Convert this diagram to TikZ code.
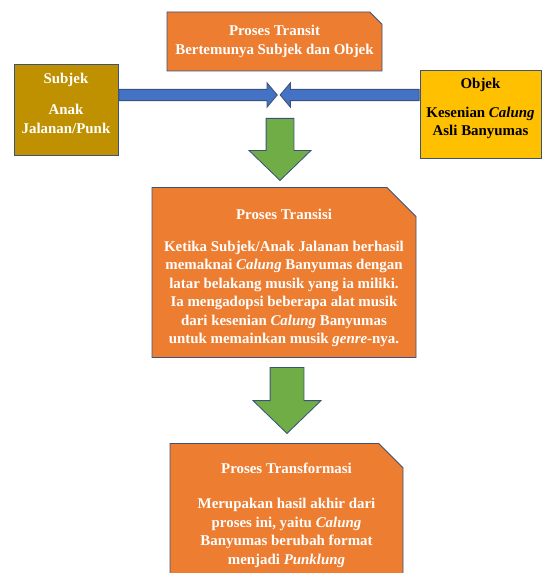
\documentclass[tikz,border=0pt]{standalone}
\usepackage{fontspec}
\setmainfont{Liberation Serif}
\usetikzlibrary{shapes.misc, shapes.arrows, positioning}
\definecolor{oranyeBox}{HTML}{ED7D31}
\definecolor{garisBox}{HTML}{3B5378}
\definecolor{emasTua}{HTML}{BF9000}
\definecolor{kuningObjek}{HTML}{FFC000}
\definecolor{biruPanah}{HTML}{4472C4}
\definecolor{hijauPanah}{HTML}{70AD47}

\begin{document}
\begin{tikzpicture}[font=\fontsize{10.6}{13.2}\selectfont\bfseries,
        proses/.style={chamfered rectangle, chamfered rectangle corners=north east,
            draw=garisBox, line width=0.6pt, fill=oranyeBox, text=white,
            align=center, inner sep=0pt},
        aktor/.style={rectangle, draw=garisBox, line width=0.6pt, align=center, inner sep=0pt},
        panahBiru/.style={single arrow, draw=garisBox, fill=biruPanah, line width=0.6pt,
            inner sep=0pt, text height=0.13cm, text depth=0.13cm,
            single arrow head extend=0.1625cm, single arrow tip angle=100, anchor=tail},
        panahHijau/.style={single arrow, draw=garisBox, fill=hijauPanah, line width=0.6pt,
            inner sep=0pt, rotate=-90, single arrow head extend=0.425cm,
            single arrow tip angle=92, anchor=tail}]
    \useasboundingbox (0,0) rectangle (13.55,-14.325);
    % kotak proses dan aktor
    \node[proses, chamfered rectangle xsep=0.2cm, minimum width=5.375cm, minimum height=1.475cm]
        (transit) at (6.8625,-1.0375) {Proses Transit\\Bertemunya Subjek dan Objek};
    \node[aktor, fill=emasTua, text=white, minimum width=2.6cm, minimum height=2.275cm,
        text depth=0.32cm] (subjek) at (1.65,-2.7375) {Subjek\\[9pt]Anak\\Jalanan/Punk};
    \node[aktor, fill=kuningObjek, text=black, minimum width=3.025cm, minimum height=2.2cm,
        text depth=0.36cm] (objek) at (12.0125,-2.85)
        {Objek\\[7.5pt]Kesenian \textit{Calung}\\Asli Banyumas};
    \node[proses, chamfered rectangle xsep=0.62cm, inner xsep=-0.5cm, minimum width=6.6cm,
        minimum height=4.25cm] (transisi) at (7.1,-6.8125)
        {\rule{0pt}{0.55cm}Proses Transisi\\[9pt]Ketika Subjek/Anak Jalanan berhasil\\
        memaknai \textit{Calung} Banyumas dengan\\latar belakang musik yang ia miliki.\\
        Ia mengadopsi beberapa alat musik\\dari kesenian \textit{Calung} Banyumas\\
        untuk memainkan musik \textit{genre}-nya.};
    \node[proses, anchor=north, chamfered rectangle xsep=0.5cm, minimum width=5.825cm,
        inner ysep=0.37cm, text depth=1.5cm] (transformasi) at (7.1625,-11.075)
        {Proses Transformasi\\[12pt]Merupakan hasil akhir dari\\proses ini, yaitu \textit{Calung}\\
        Banyumas berubah format\\menjadi \textit{Punklung}};
    % panah blok
    \node[panahBiru, minimum height=3.96cm] (panahKiri) at (subjek.east |- 0,-2.375) {};
    \node[panahBiru, rotate=180, minimum height=3.475cm] (panahKanan) at (objek.west |- 0,-2.375) {};
    \node[panahHijau, text height=0.3375cm, text depth=0.3375cm, minimum height=1.55cm]
        (turunSatu) at (7.0,-2.95) {};
    \node[panahHijau, text height=0.4125cm, text depth=0.4125cm, minimum height=1.65cm]
        (turunDua) at (7.175,-9.175) {};
\end{tikzpicture}
\end{document}
